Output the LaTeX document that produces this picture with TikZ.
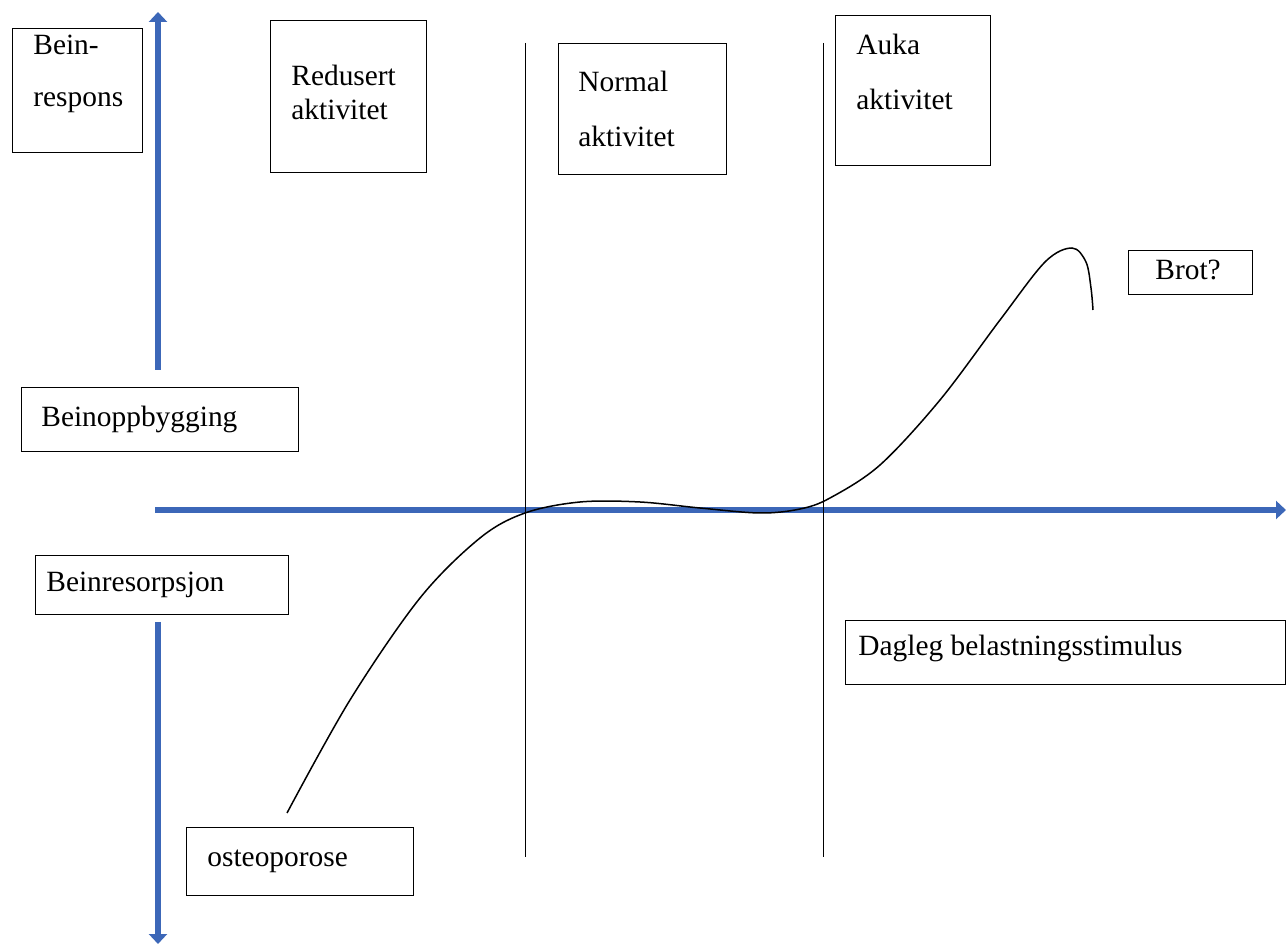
\documentclass[tikz,border=0pt]{standalone}
\usepackage{fontspec}
\setmainfont{Liberation Serif}
\usetikzlibrary{arrows.meta}
\definecolor{axisblue}{RGB}{60,103,184}
\begin{document}
\begin{tikzpicture}[x=0.5pt, y=-0.5pt]
  \tikzstyle{box}=[draw, line width=0.6pt, anchor=north west, inner sep=0pt]
  \tikzstyle{txt}=[anchor=base west, inner sep=0pt, align=left]
  \tikzstyle{axis}=[line width=2.8pt, draw=axisblue, -{Triangle[length=5pt, width=9pt]}]
  \tikzstyle{divider}=[line width=0.5pt]

  \useasboundingbox (0,0) rectangle (1287,946);

  % boxes
  \node[box, minimum width=65pt,   minimum height=62pt]   (resp)  at (12,28)   {};
  \node[box, minimum width=78pt,   minimum height=76pt]   (red)   at (270,20)  {};
  \node[box, minimum width=84pt,   minimum height=65.5pt] (norm)  at (558,43)  {};
  \node[box, minimum width=77.5pt, minimum height=75pt]   (auka)  at (835,15)  {};
  \node[box, minimum width=62pt,   minimum height=22pt]   (brot)  at (1128,250) {};
  \node[box, minimum width=138.5pt,minimum height=32pt]   (build) at (21,387)  {};
  \node[box, minimum width=126.5pt,minimum height=29.5pt] (resor) at (35,555)  {};
  \node[box, minimum width=220pt,  minimum height=32pt]   (load)  at (845,620) {};
  \node[box, minimum width=113.5pt,minimum height=34pt]   (osteo) at (186,827) {};

  % texts (anchored at the baseline of the last line)
  \node[txt, font=\fontsize{14.7}{26}\selectfont]   (resp-t)  at (33,107)  {Bein-\\respons};
  \node[txt, font=\fontsize{14.7}{17}\selectfont]   (red-t)   at (291,120) {Redusert\\aktivitet};
  \node[txt, font=\fontsize{14.7}{27.5}\selectfont] (norm-t)  at (578,147) {Normal\\aktivitet};
  \node[txt, font=\fontsize{14.7}{27.5}\selectfont] (auka-t)  at (856,110) {Auka\\aktivitet};
  \node[txt, font=\fontsize{14.7}{18}\selectfont]   (brot-t)  at (1155,280) {Brot?};
  \node[txt, font=\fontsize{14.7}{18}\selectfont]   (build-t) at (41,427)  {Beinoppbygging};
  \node[txt, font=\fontsize{14.7}{18}\selectfont]   (resor-t) at (46,592)  {Beinresorpsjon};
  \node[txt, font=\fontsize{14.7}{18}\selectfont]   (load-t)  at (858,656) {Dagleg belastningsstimulus};
  \node[txt, font=\fontsize{14.7}{18}\selectfont]   (osteo-t) at (207,867) {osteoporose};

  % axes
  \coordinate (up-from)   at (158,370);
  \coordinate (up-to)     at (158,12);
  \coordinate (down-from) at (158,622);
  \coordinate (down-to)   at (158,944);
  \coordinate (x-from)    at (155,510);
  \coordinate (x-to)      at (1286,510);
  \draw[axis] (up-from) -- (up-to);
  \draw[axis] (down-from) -- (down-to);
  \draw[axis] (x-from) -- (x-to);

  % dividers
  \draw[divider] (525,43) -- (525,857);
  \draw[divider] (823,43) -- (823,857);

  % response curve
  \draw[line width=0.75pt] plot[smooth, tension=0.55] coordinates {
    (287,813) (350,700) (420,598) (480,538) (525,513) (580,502) (640,502)
    (700,508) (760,513) (800,509) (830,498) (880,465) (940,400) (1000,320)
    (1045,262) (1072,248) (1086,262) (1091,288) (1093,310)};
\end{tikzpicture}
\end{document}
